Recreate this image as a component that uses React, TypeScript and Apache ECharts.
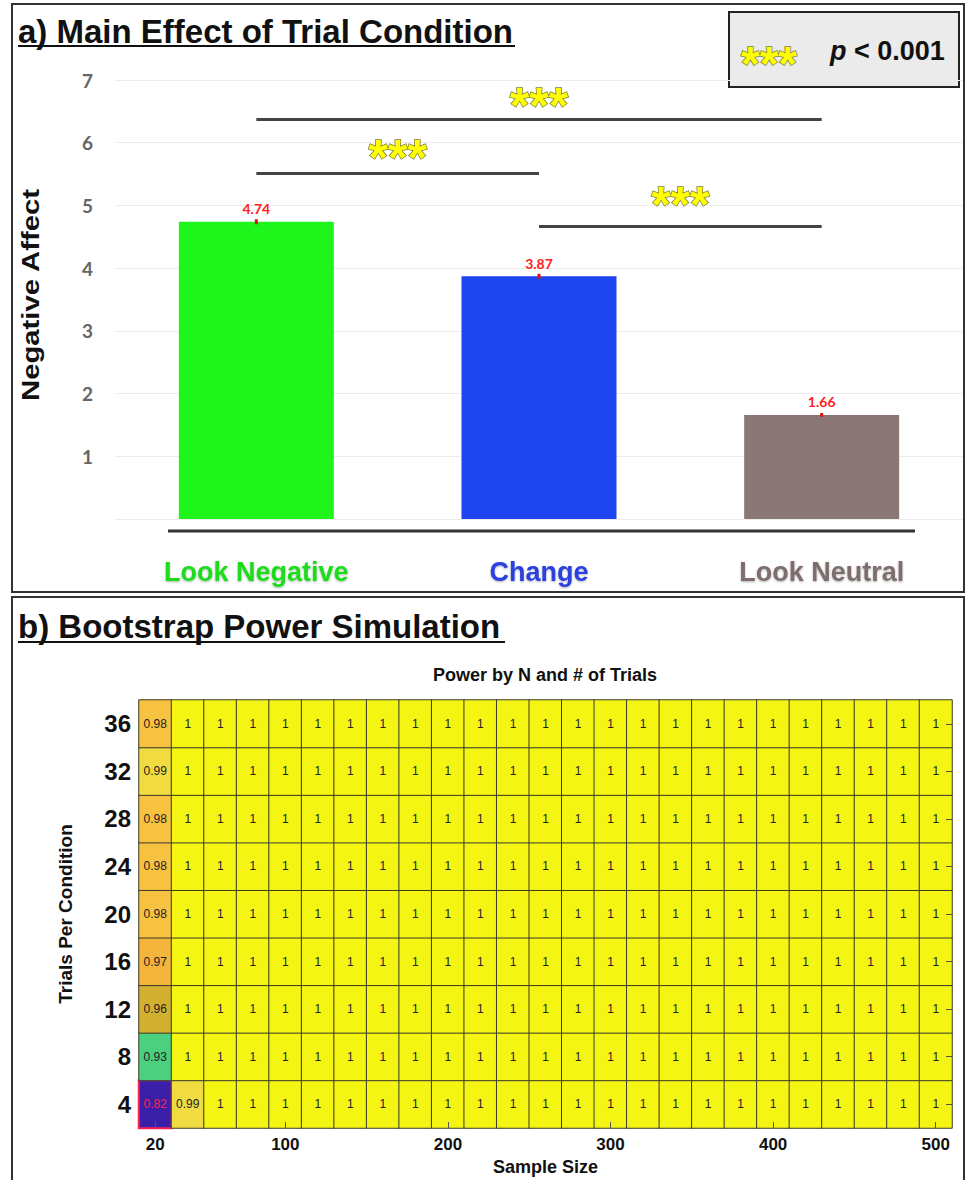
import React, { useEffect, useRef } from "react";
import * as echarts from "echarts";

// ---------- Panel a data ----------
const categories = ["Look Negative", "Change", "Look Neutral"];
const meanAffect = [4.74, 3.87, 1.66];
const stdErr = [0.04, 0.04, 0.03];
const barColors = ["#1ef51a", "#1f45f0", "#8a7776"];
const labelColors = ["#1bdc1b", "#2a3fe0", "#7d6e6d"];
// significance brackets: [from category, to category, bracket level]
const bracketFrom = [0, 0, 1];
const bracketTo = [2, 1, 2];
const bracketLevel = [6.37, 5.51, 4.67];
const sigMark = "***";

// ---------- Panel b data ----------
const sampleSizes = [
  "20", "40", "60", "80", "100", "120", "140", "160", "180", "200",
  "220", "240", "260", "280", "300", "320", "340", "360", "380", "400",
  "420", "440", "460", "480", "500",
];
const trialCounts = ["4", "8", "12", "16", "20", "24", "28", "32", "36"];
const xTickLabels = ["20", "100", "200", "300", "400", "500"];
// rows: trials 4 .. 36 ; columns: sample size 20 .. 500
const power = [
  [0.82, 0.99, 1, 1, 1, 1, 1, 1, 1, 1, 1, 1, 1, 1, 1, 1, 1, 1, 1, 1, 1, 1, 1, 1, 1],
  [0.93, 1, 1, 1, 1, 1, 1, 1, 1, 1, 1, 1, 1, 1, 1, 1, 1, 1, 1, 1, 1, 1, 1, 1, 1],
  [0.96, 1, 1, 1, 1, 1, 1, 1, 1, 1, 1, 1, 1, 1, 1, 1, 1, 1, 1, 1, 1, 1, 1, 1, 1],
  [0.97, 1, 1, 1, 1, 1, 1, 1, 1, 1, 1, 1, 1, 1, 1, 1, 1, 1, 1, 1, 1, 1, 1, 1, 1],
  [0.98, 1, 1, 1, 1, 1, 1, 1, 1, 1, 1, 1, 1, 1, 1, 1, 1, 1, 1, 1, 1, 1, 1, 1, 1],
  [0.98, 1, 1, 1, 1, 1, 1, 1, 1, 1, 1, 1, 1, 1, 1, 1, 1, 1, 1, 1, 1, 1, 1, 1, 1],
  [0.98, 1, 1, 1, 1, 1, 1, 1, 1, 1, 1, 1, 1, 1, 1, 1, 1, 1, 1, 1, 1, 1, 1, 1, 1],
  [0.99, 1, 1, 1, 1, 1, 1, 1, 1, 1, 1, 1, 1, 1, 1, 1, 1, 1, 1, 1, 1, 1, 1, 1, 1],
  [0.98, 1, 1, 1, 1, 1, 1, 1, 1, 1, 1, 1, 1, 1, 1, 1, 1, 1, 1, 1, 1, 1, 1, 1, 1],
];
const powerMin = 0.82;
const powerMax = 1;
// parula-like colour table, evenly spaced from powerMin to powerMax
const parula = [
  "#3a1fa8", "#4030c8", "#4444e6", "#4560f5", "#3a7cf8", "#2a94ec", "#1aa8dc",
  "#0fb8c8", "#22c2ac", "#34c896", "#40cd88", "#4cd080", "#80cc68", "#b0c050",
  "#d4b030", "#f5b43c", "#f7c240", "#f0dc40", "#f5f514",
];

const SANS = "'Liberation Sans', Arial, sans-serif";

export default function App() {
  const ref = useRef<HTMLDivElement>(null);

  useEffect(() => {
    document.body.style.margin = "0";
    const chart = echarts.init(ref.current!, null, { renderer: "svg" });

    const heatData: any[] = [];
    power.forEach((row, r) => {
      row.forEach((v, c) => {
        const isMin = v === powerMin;
        heatData.push({
          value: [c, r, v],
          itemStyle: isMin
            ? { borderColor: "#ff2050", borderWidth: 2 }
            : { borderColor: "#3a3a2a", borderWidth: 1 },
          label: { color: isMin ? "#ff2050" : "#222222" },
        });
      });
    });

    const starLift = [-11, -10, -4];
    const markLineData = bracketLevel.map((lvl, i) => [
      { coord: [categories[bracketFrom[i]], lvl], label: { distance: starLift[i] } },
      { coord: [categories[bracketTo[i]], lvl] },
    ]);

    const starStyle = {
      color: "#ffff00",
      fontSize: 50,
      fontWeight: "bold",
      fontFamily: SANS,
      textBorderColor: "#7d7d3a",
      textBorderWidth: 1.5,
    };

    const option: any = {
      animation: false,
      backgroundColor: "#ffffff",
      grid: [
        { left: 115, top: 80, width: 848, height: 439 },
        { left: 139, top: 700, width: 813, height: 428 },
      ],
      xAxis: [
        {
          gridIndex: 0,
          type: "category",
          data: categories,
          axisLine: { show: false },
          axisTick: { show: false },
          axisLabel: {
            margin: 39,
            fontSize: 27,
            fontWeight: "bold",
            fontFamily: SANS,
            color: (_v: string, i: number) => labelColors[i],
            textShadowColor: "rgba(0,0,0,0.3)",
            textShadowBlur: 2,
            textShadowOffsetY: 1,
          },
        },
        {
          gridIndex: 1,
          type: "category",
          data: sampleSizes,
          z: 5,
          axisLine: { show: false },
          axisTick: {
            show: true,
            inside: true,
            length: 6,
            alignWithLabel: true,
            interval: (_i: number, v: string) => xTickLabels.includes(v),
            lineStyle: { color: "#555", width: 1 },
          },
          splitArea: { show: false },
          axisLabel: {
            interval: (_i: number, v: string) => xTickLabels.includes(v),
            margin: 8,
            fontSize: 17,
            fontWeight: "bold",
            fontFamily: SANS,
            color: "#111",
          },
          name: "Sample Size",
          nameLocation: "middle",
          nameGap: 30,
          nameTextStyle: { fontSize: 18, fontWeight: "bold", fontFamily: SANS, color: "#111" },
        },
      ],
      yAxis: [
        {
          gridIndex: 0,
          type: "value",
          min: 0,
          max: 7,
          interval: 1,
          axisLine: { show: false },
          axisTick: { show: false },
          splitLine: { show: true, lineStyle: { color: "#ececec", width: 1 } },
          axisLabel: {
            margin: 22,
            fontSize: 19,
            fontWeight: "bold",
            fontFamily: "Lato, sans-serif",
            color: "#666",
            formatter: (v: number) => (v === 0 ? "" : String(v)),
          },
        },
        {
          gridIndex: 1,
          type: "category",
          data: trialCounts,
          axisLine: { show: false },
          axisTick: { show: false },
          axisLabel: {
            margin: 8,
            fontSize: 24,
            fontWeight: "bold",
            fontFamily: SANS,
            color: "#111",
          },
          name: "Trials Per Condition",
          nameLocation: "middle",
          nameGap: 64,
          nameTextStyle: { fontSize: 19, fontWeight: "bold", fontFamily: SANS, color: "#111" },
        },
        {
          gridIndex: 1,
          type: "category",
          position: "right",
          data: trialCounts,
          z: 5,
          axisLine: { show: false },
          axisLabel: { show: false },
          axisTick: {
            show: true,
            inside: true,
            length: 6,
            alignWithLabel: true,
            lineStyle: { color: "#555", width: 1 },
          },
        },
      ],
      visualMap: {
        show: false,
        type: "continuous",
        seriesIndex: 2,
        dimension: 2,
        min: powerMin,
        max: powerMax,
        inRange: { color: parula },
      },
      series: [
        {
          type: "bar",
          xAxisIndex: 0,
          yAxisIndex: 0,
          barWidth: 155,
          data: meanAffect.map((v, i) => ({ value: v, itemStyle: { color: barColors[i] } })),
          label: {
            show: true,
            position: "top",
            distance: 6,
            color: "#ff2020",
            fontSize: 14,
            fontWeight: "bold",
            fontFamily: "Lato, sans-serif",
            formatter: (p: any) => p.value.toFixed(2),
          },
          markLine: {
            silent: true,
            symbol: "none",
            lineStyle: { color: "#444", width: 3, type: "solid" },
            label: {
              show: true,
              position: "middle",
              formatter: sigMark,
              distance: 0,
              ...starStyle,
            },
            data: markLineData,
          },
        },
        {
          type: "custom",
          xAxisIndex: 0,
          yAxisIndex: 0,
          data: meanAffect.map((v, i) => [i, v - stdErr[i], v + stdErr[i]]),
          renderItem: (_params: any, api: any) => {
            const lo = api.coord([api.value(0), api.value(1)]);
            const hi = api.coord([api.value(0), api.value(2)]);
            return {
              type: "line",
              shape: { x1: lo[0], y1: lo[1], x2: hi[0], y2: hi[1] },
              style: { stroke: "#e01010", lineWidth: 3 },
            };
          },
          z: 5,
        },
        {
          type: "heatmap",
          xAxisIndex: 1,
          yAxisIndex: 1,
          data: heatData,
          label: {
            show: true,
            fontSize: 12,
            fontFamily: SANS,
            formatter: (p: any) => String(p.value[2]),
          },
          emphasis: { disabled: true },
        },
      ],
      graphic: [
        // panel frames
        { type: "rect", shape: { x: 12, y: 4, width: 952, height: 588 }, style: { fill: "none", stroke: "#333", lineWidth: 2 }, silent: true },
        { type: "rect", shape: { x: 12, y: 597, width: 952, height: 590 }, style: { fill: "none", stroke: "#333", lineWidth: 2 }, silent: true },
        // panel a title
        { type: "text", x: 18, y: 31, style: { text: "a) Main Effect of Trial Condition", font: `bold 33px ${SANS}`, fill: "#111", verticalAlign: "middle" } },
        { type: "line", shape: { x1: 18, y1: 46, x2: 515, y2: 46 }, style: { stroke: "#111", lineWidth: 2 } },
        // y axis title of panel a
        {
          type: "text",
          x: 31,
          y: 295,
          rotation: Math.PI / 2,
          scaleX: 1.22,
          style: { text: "Negative Affect", font: `bold 24px ${SANS}`, fill: "#111", align: "center", verticalAlign: "middle" },
        },
        // legend box
        { type: "rect", shape: { x: 729, y: 12, width: 230, height: 75 }, style: { fill: "#ebebeb", stroke: "#222", lineWidth: 2 } },
        { type: "text", x: 741, y: 63, style: { text: sigMark, font: `bold 48px ${SANS}`, fill: "#ffff00", stroke: "#7d7d3a", lineWidth: 1.5, verticalAlign: "middle" } },
        {
          type: "text",
          x: 830,
          y: 51,
          style: {
            text: "{p|p} < 0.001",
            font: `bold 27px ${SANS}`,
            fill: "#111",
            verticalAlign: "middle",
            rich: { p: { fontStyle: "italic", fontWeight: "bold", fontSize: 27, fontFamily: SANS, fill: "#111" } },
          },
        },
        // baseline rule under bars
        { type: "line", shape: { x1: 168, y1: 531, x2: 915, y2: 531 }, style: { stroke: "#333", lineWidth: 3 } },
        // panel b title
        { type: "text", x: 18, y: 626, style: { text: "b) Bootstrap Power Simulation", font: `bold 33px ${SANS}`, fill: "#111", verticalAlign: "middle" } },
        { type: "line", shape: { x1: 18, y1: 642, x2: 505, y2: 642 }, style: { stroke: "#111", lineWidth: 2 } },
        // heatmap title
        { type: "text", x: 545, y: 675, style: { text: "Power by N and # of Trials", font: `bold 18px ${SANS}`, fill: "#111", align: "center", verticalAlign: "middle" } },
      ],
    };

    chart.setOption(option);
    return () => chart.dispose();
  }, []);

  return <div ref={ref} style={{ width: 966, height: 1180 }} />;
}
